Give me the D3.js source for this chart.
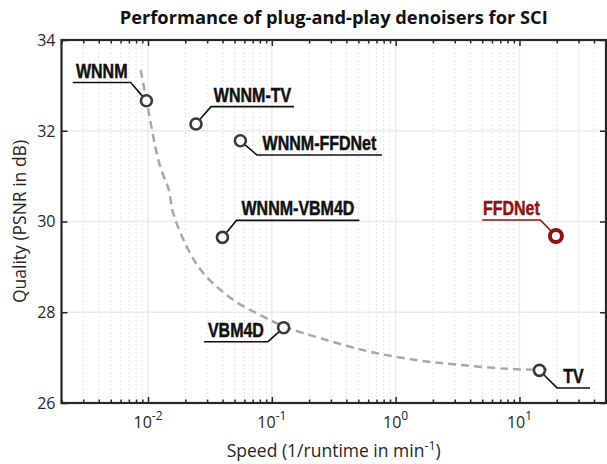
<!DOCTYPE html>
<html>
<head>
<meta charset="utf-8">
<script src="https://cdn.jsdelivr.net/npm/d3@7"></script>
<style>
  html, body { margin: 0; padding: 0; background: #fff; }
  svg { display: block; }
  .tick-lbl { font-family: "Open Sans", "Noto Sans", sans-serif; font-size: 16px; fill: #262626; }
  .axis-title { font-family: "Open Sans", "Noto Sans", sans-serif; font-size: 17.5px; fill: #262626; }
  .pt-lbl { font-family: "Liberation Sans", Arial, sans-serif; font-weight: bold; font-size: 20px; stroke-width: 0.5px; }
</style>
</head>
<body>
<div class="vis-chart"></div>
<script>
// methods, speed (1/runtime in min^-1) and PSNR (dB)
const names = ['WNNM', 'WNNM-TV', 'WNNM-FFDNet', 'WNNM-VBM4D', 'FFDNet', 'VBM4D', 'TV'];
const speed = [0.0097, 0.0244, 0.0557, 0.0399, 19.7, 0.1245, 14.5];
const psnr = [32.66, 32.15, 31.78, 29.65, 29.68, 27.66, 26.72];

// dashed trade-off curve
const curveSpeed = [0.00873, 0.00976, 0.0121, 0.0137, 0.0146, 0.0160, 0.0205, 0.0280, 0.0489, 0.0803, 0.128, 0.245, 0.621, 1.52, 3.30, 8.38, 17.6];
const curvePsnr = [33.34, 32.64, 31.36, 30.92, 30.73, 30.18, 29.45, 28.86, 28.27, 27.94, 27.68, 27.43, 27.13, 26.94, 26.84, 26.75, 26.73];

const yTicks = [26, 28, 30, 32, 34];
const xTickExp = [-2, -1, 0, 1];

// where each label sits relative to its marker (elbow offset + underline length)
const labelLayout = {
  'WNNM':        { dx: -15.7, dy: -18.3, len: 58 },
  'WNNM-TV':     { dx: 15,    dy: -17.3, len: 83 },
  'WNNM-FFDNet': { dx: 16.6,  dy: 14.3,  len: 125 },
  'WNNM-VBM4D':  { dx: 14,    dy: -17,   len: 123 },
  'FFDNet':      { dx: -15.6, dy: -16,   len: 58 },
  'VBM4D':       { dx: -15.7, dy: 14,    len: 64 },
  'TV':          { dx: 17.6,  dy: 17.6,  len: 33 }
};
const highlight = 'FFDNet';

const W = 607, H = 464;
const plot = { left: 61.5, right: 606, top: 40, bottom: 403 };

const svg = d3.select('.vis-chart').append('svg')
  .attr('width', W)
  .attr('height', H);

const x = d3.scaleLog().domain([0.002, 50]).range([plot.left, plot.right]);
const y = d3.scaleLinear().domain([26, 34]).range([plot.bottom, plot.top]);

const majorX = xTickExp.map(e => Math.pow(10, e));
const minorX = x.ticks().filter(t => !majorX.some(m => Math.abs(m - t) / m < 1e-6));

// grid
const grid = svg.append('g');
grid.selectAll('.gminor').data(minorX).enter().append('line')
  .attr('x1', d => x(d)).attr('x2', d => x(d))
  .attr('y1', plot.top).attr('y2', plot.bottom)
  .attr('stroke', '#dedede').attr('stroke-width', 1)
  .attr('stroke-dasharray', '1.5,2.5');
grid.selectAll('.gmajor').data(majorX).enter().append('line')
  .attr('x1', d => x(d)).attr('x2', d => x(d))
  .attr('y1', plot.top).attr('y2', plot.bottom)
  .attr('stroke', '#ebebeb').attr('stroke-width', 1.5);
grid.selectAll('.gy').data(yTicks).enter().append('line')
  .attr('x1', plot.left).attr('x2', plot.right)
  .attr('y1', d => y(d)).attr('y2', d => y(d))
  .attr('stroke', '#ebebeb').attr('stroke-width', 1.5);

// dashed curve
const curvePts = curveSpeed.map((s, i) => [x(s), y(curvePsnr[i])]);
svg.append('path')
  .attr('d', d3.line().curve(d3.curveCatmullRom.alpha(0.5))(curvePts))
  .attr('fill', 'none')
  .attr('stroke', '#a8a8a8')
  .attr('stroke-width', 2.5)
  .attr('stroke-dasharray', '8,5');

// axes, matlab style: ticks inside, box on
const axisCol = '#262626';
function styleAxis(g) {
  g.select('.domain').remove();
  g.selectAll('.tick line').attr('stroke', axisCol).attr('stroke-width', 1.5);
  g.selectAll('.tick text').remove();
}
svg.append('g').attr('transform', `translate(0,${plot.bottom})`)
  .call(d3.axisBottom(x).tickValues(majorX).tickSize(-6)).call(styleAxis);
svg.append('g').attr('transform', `translate(0,${plot.bottom})`)
  .call(d3.axisBottom(x).tickValues(minorX).tickSize(-3.5)).call(styleAxis);
svg.append('g').attr('transform', `translate(0,${plot.top})`)
  .call(d3.axisTop(x).tickValues(majorX).tickSize(-6)).call(styleAxis);
svg.append('g').attr('transform', `translate(0,${plot.top})`)
  .call(d3.axisTop(x).tickValues(minorX).tickSize(-3.5)).call(styleAxis);
svg.append('g').attr('transform', `translate(${plot.left},0)`)
  .call(d3.axisLeft(y).tickValues(yTicks).tickSize(-6)).call(styleAxis);
svg.append('g').attr('transform', `translate(${plot.right},0)`)
  .call(d3.axisRight(y).tickValues(yTicks).tickSize(-6)).call(styleAxis);

svg.append('rect')
  .attr('x', plot.left).attr('y', plot.top)
  .attr('width', plot.right - plot.left).attr('height', plot.bottom - plot.top)
  .attr('fill', 'none').attr('stroke', axisCol).attr('stroke-width', 2.2);

// tick labels
svg.selectAll('.ylbl').data(yTicks).enter().append('text')
  .attr('class', 'tick-lbl')
  .attr('x', plot.left - 6)
  .attr('y', d => y(d))
  .attr('dy', '0.36em')
  .attr('text-anchor', 'end')
  .text(d => d);

const xl = svg.selectAll('.xlbl').data(xTickExp).enter().append('text')
  .attr('class', 'tick-lbl')
  .attr('x', d => x(Math.pow(10, d)))
  .attr('y', plot.bottom + 25)
  .attr('text-anchor', 'middle');
xl.append('tspan').text('10');
xl.append('tspan').attr('dy', -8).attr('font-size', '12px').text(d => d < 0 ? '-' + (-d) : d);

// axis titles
const xt = svg.append('text').attr('class', 'axis-title')
  .attr('x', (plot.left + plot.right) / 2).attr('y', 457)
  .attr('text-anchor', 'middle');
xt.append('tspan').text('Speed (1/runtime in min');
xt.append('tspan').attr('dy', -7).attr('font-size', '12.5px').text('-1');
xt.append('tspan').attr('dy', 7).text(')');

svg.append('text').attr('class', 'axis-title')
  .attr('transform', `translate(26,${(plot.top + plot.bottom) / 2}) rotate(-90)`)
  .attr('text-anchor', 'middle')
  .text('Quality (PSNR in dB)');

svg.append('text')
  .attr('x', (plot.left + plot.right) / 2).attr('y', 24)
  .attr('text-anchor', 'middle')
  .attr('font-family', '"Open Sans", "Noto Sans", sans-serif')
  .attr('font-weight', 'bold')
  .attr('font-size', '18.3px')
  .attr('fill', '#111')
  .text('Performance of plug-and-play denoisers for SCI');

// markers + leader labels
const pts = names.map((n, i) => ({ name: n, cx: x(speed[i]), cy: y(psnr[i]) }));
const lab = svg.append('g');
pts.forEach(p => {
  const L = labelLayout[p.name];
  const hi = p.name === highlight;
  const col = hi ? '#8b1414' : '#111';
  const r = hi ? 6 : 5.5;
  const ex = p.cx + L.dx, ey = p.cy + L.dy;
  const dist = Math.hypot(L.dx, L.dy);
  const side = L.dx < 0 ? -1 : 1;
  lab.append('path')
    .attr('d', `M${p.cx + L.dx / dist * r},${p.cy + L.dy / dist * r}L${ex},${ey}L${ex + side * L.len},${ey}`)
    .attr('fill', 'none').attr('stroke', col).attr('stroke-width', 1.6);
  // condensed look: squeeze the bold face horizontally
  lab.append('text')
    .attr('class', 'pt-lbl')
    .attr('transform', `translate(${ex + side * L.len / 2},${ey - 5}) scale(0.8,1)`)
    .attr('text-anchor', 'middle')
    .attr('fill', col)
    .attr('stroke', col)
    .text(p.name);
});

svg.append('g').selectAll('circle').data(pts).enter().append('circle')
  .attr('cx', d => d.cx).attr('cy', d => d.cy)
  .attr('r', d => d.name === highlight ? 6 : 5.5)
  .attr('fill', '#fff')
  .attr('stroke', d => d.name === highlight ? '#8b1414' : '#3a3a3a')
  .attr('stroke-width', d => d.name === highlight ? 4 : 2.6);
</script>
</body>
</html>
